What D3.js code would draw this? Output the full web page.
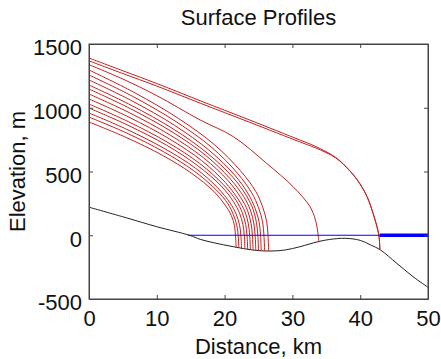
<!DOCTYPE html>
<html>
<head>
<meta charset="utf-8">
<script src="https://cdn.jsdelivr.net/npm/d3@7.9.0/dist/d3.min.js"></script>
<style>
  body { margin: 0; background: #fff; }
  text { font-family: "Liberation Sans", Arial, sans-serif; fill: #111; }
</style>
</head>
<body>
<svg width="441" height="359"></svg>
<script>
// bed topography (km, m)
const bedKm   = [0, 5.5, 10, 14.8, 16.4, 18.5, 21.3, 24.2, 26.7, 29, 31.1, 33.8, 35.5, 37.8, 40, 41.5, 43, 45.4, 47.8, 50];
const bedElev = [220, 137, 67, 0, -32, -60, -90, -116, -124, -115, -90, -50, -33, -24, -40, -75, -116, -220, -325, -408];

// surface profiles, [km, m] pairs
const profiles = [
  [[0,1390],[5,1290],[10,1190],[16.4,1055],[23.7,904],[31.1,747],[33.2,702],[35.1,652],[36.4,610],[37.5,560],[39.5,440],[41,305],[41.9,172],[42.6,40],[42.8,-20],[42.9,-110]],
  [[0,1368],[5,1268],[10,1170],[16.4,1036],[23.7,886],[31.1,732],[33.2,690],[35.1,645],[36.4,606],[37.5,557],[39.5,438],[41,303],[41.9,170],[42.6,40],[42.8,-20],[42.9,-110]],
  [[0,1338],[5,1225],[10,1095],[16.4,904],[21.3,773],[26.2,564],[30.1,381],[32.6,224],[33.4,120],[33.7,40],[33.8,0],[33.9,-55]],
  [[0,1296],[6.6,1122],[13.2,916],[18.5,710],[22.4,502],[24.6,343],[25.6,224],[26.2,109],[26.4,0],[26.5,-124]],
  [[0,1257],[6.45,1089],[12.9,889],[18.1,689],[21.9,486],[24.0,333],[25.0,217],[25.6,106],[25.8,0],[25.9,-123]],
  [[0,1218],[6.3,1055],[12.65,861],[17.7,667],[21.5,471],[23.5,323],[24.5,211],[25.1,102],[25.3,0],[25.4,-121]],
  [[0,1178],[6.2,1020],[12.45,833],[17.4,646],[21.2,456],[23.2,312],[24.2,204],[24.7,99],[24.9,0],[25.0,-120]],
  [[0,1147],[6.1,993],[12.25,811],[17.15,629],[20.8,444],[22.8,304],[23.8,198],[24.3,96],[24.5,0],[24.6,-118]],
  [[0,1108],[6.0,960],[12.05,783],[16.9,607],[20.5,429],[22.4,294],[23.4,192],[23.9,93],[24.1,0],[24.2,-116]],
  [[0,1069],[5.9,926],[11.85,756],[16.6,586],[20.1,414],[22.0,283],[23.0,185],[23.5,90],[23.7,0],[23.8,-114]],
  [[0,1029],[5.8,891],[11.65,727],[16.3,564],[19.8,398],[21.7,273],[22.6,178],[23.1,86],[23.3,0],[23.4,-111]],
  [[0,998],[5.7,864],[11.45,706],[16.0,547],[19.5,386],[21.3,264],[22.2,173],[22.7,84],[22.9,0],[23.0,-108]],
  [[0,959],[5.6,830],[11.2,678],[15.7,526],[19.0,371],[20.8,254],[21.7,166],[22.2,81],[22.4,0],[22.5,-104]],
  [[0,927],[5.5,803],[11.0,655],[15.4,508],[18.7,359],[20.5,246],[21.3,160],[21.8,78],[22.0,0],[22.1,-99]],
  [[0,888],[5.4,769],[10.8,628],[15.1,487],[18.4,344],[20.1,235],[21.0,154],[21.45,75],[21.6,0],[21.7,-94]]
];

// sea level: open water and the thick stretch past the last front
const seaKm = [14.6, 50];
const frontKm = [42.9, 50];

const xTicks = [0, 10, 20, 30, 40, 50];
const yTicks = [-500, 0, 500, 1000, 1500];

const margin = { left: 89, right: 13, top: 44, bottom: 60 };
const width = 441, height = 359;

const svg = d3.select('svg');

let x = d3.scaleLinear().domain([0, 50]).range([margin.left, width - margin.right]);
let y = d3.scaleLinear().domain([-500, 1500]).range([height - margin.bottom, margin.top]);

let line = d3.line()
  .x((d) => x(d[0]))
  .y((d) => y(d[1]))
  .curve(d3.curveCatmullRom.alpha(0.5));

// bed
let bed = bedKm.map((k, i) => [k, bedElev[i]]);
svg.append('path')
  .attr('d', line(bed))
  .attr('fill', 'none')
  .attr('stroke', '#222')
  .attr('stroke-width', 1);

// profiles
profiles.forEach((p) => {
  svg.append('path')
    .attr('d', line(p))
    .attr('fill', 'none')
    .attr('stroke', '#c42020')
    .attr('stroke-width', 1);
});

// sea level
svg.append('line')
  .attr('x1', x(seaKm[0])).attr('x2', x(seaKm[1]))
  .attr('y1', y(0)).attr('y2', y(0))
  .attr('stroke', '#0000ff').attr('stroke-width', 1.2);
svg.append('line')
  .attr('x1', x(frontKm[0])).attr('x2', x(frontKm[1]))
  .attr('y1', y(0)).attr('y2', y(0))
  .attr('stroke', '#0000ff').attr('stroke-width', 3.5);

// axes box, MATLAB style ticks inside on all sides
let axisColor = '#444';
let tickLen = 4;
let fontSize = 22;
let plain = (d) => String(d);

svg.append('g')
  .attr('transform', `translate(0,${y(-500)})`)
  .call(d3.axisBottom(x).tickValues(xTicks).tickFormat(plain).tickSizeInner(-tickLen).tickSizeOuter(0).tickPadding(11))
  .call((g) => g.selectAll('text').attr('font-size', fontSize).attr('dy', '0.71em'));
svg.append('g')
  .attr('transform', `translate(0,${y(1500)})`)
  .call(d3.axisTop(x).tickValues(xTicks).tickSizeInner(-tickLen).tickSizeOuter(0).tickFormat(''));
svg.append('g')
  .attr('transform', `translate(${x(0)},0)`)
  .call(d3.axisLeft(y).tickValues(yTicks).tickFormat(plain).tickSizeInner(-tickLen).tickSizeOuter(0).tickPadding(7))
  .call((g) => g.selectAll('text').attr('font-size', fontSize).attr('dy', '0.49em'));
svg.append('g')
  .attr('transform', `translate(${x(50)},0)`)
  .call(d3.axisRight(y).tickValues(yTicks).tickSizeInner(-tickLen).tickSizeOuter(0).tickFormat(''));

svg.selectAll('.domain, .tick line').attr('stroke', axisColor);
svg.selectAll('.tick text').attr('fill', '#111').attr('font-family', '"Liberation Sans", Arial, sans-serif');

svg.append('rect')
  .attr('x', x(0)).attr('y', y(1500))
  .attr('width', x(50) - x(0)).attr('height', y(-500) - y(1500))
  .attr('fill', 'none').attr('stroke', axisColor).attr('stroke-width', 1);

// titles
svg.append('text')
  .attr('x', (x(0) + x(50)) / 2).attr('y', 25)
  .attr('text-anchor', 'middle').attr('font-size', fontSize)
  .text('Surface Profiles');
svg.append('text')
  .attr('x', (x(0) + x(50)) / 2).attr('y', 354)
  .attr('text-anchor', 'middle').attr('font-size', fontSize)
  .text('Distance, km');
svg.append('text')
  .attr('transform', `translate(25,${(y(-500) + y(1500)) / 2}) rotate(-90)`)
  .attr('text-anchor', 'middle').attr('font-size', fontSize)
  .text('Elevation, m');
</script>
</body>
</html>
